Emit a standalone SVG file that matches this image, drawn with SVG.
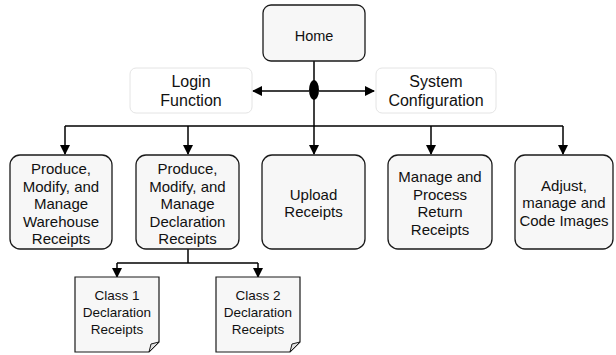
<svg xmlns="http://www.w3.org/2000/svg" width="616" height="355" viewBox="0 0 616 355">
<defs>
<style>
.box{fill:#f7f7f7;stroke:#1a1a1a;stroke-width:1.3}
.soft{fill:#ffffff;stroke:#e4e4e4;stroke-width:1}
.doc{fill:#f7f7f7;stroke:#1a1a1a;stroke-width:1.2}
.fold{fill:#e0e0e0;stroke:#1a1a1a;stroke-width:1}
.ln{fill:none;stroke:#000;stroke-width:1.5}
text{font-family:"Liberation Sans",Arial,sans-serif;font-size:15px;fill:#111;text-anchor:middle}
.big{font-size:16px}
.sm{font-size:13.5px}
</style>
<marker id="ah" markerWidth="10" markerHeight="10" refX="9" refY="5" orient="auto" markerUnits="userSpaceOnUse">
<path d="M0,0 L10,5 L0,10 Z" fill="#000"/>
</marker>
</defs>
<rect width="616" height="355" fill="#fff"/>
<g id="connectors">
<path class="ln" d="M314,61 V126"/>
<path class="ln" d="M309,91 H253" marker-end="url(#ah)"/>
<path class="ln" d="M319,91 H374" marker-end="url(#ah)"/>
<ellipse cx="314" cy="90" rx="5" ry="10" fill="#000"/>
<path class="ln" d="M65,126 H563"/>
<path class="ln" d="M65,126 V154" marker-end="url(#ah)"/>
<path class="ln" d="M188,126 V154" marker-end="url(#ah)"/>
<path class="ln" d="M314,126 V154" marker-end="url(#ah)"/>
<path class="ln" d="M431,126 V154" marker-end="url(#ah)"/>
<path class="ln" d="M563,126 V154" marker-end="url(#ah)"/>
<path class="ln" d="M188,249 V263"/>
<path class="ln" d="M117,263 H258"/>
<path class="ln" d="M117,263 V277" marker-end="url(#ah)"/>
<path class="ln" d="M258,263 V277" marker-end="url(#ah)"/>
</g>
<g id="home">
<rect class="box" x="263" y="5" width="102" height="56" rx="8"/>
<text x="314" y="41" style="font-size:14.5px">Home</text>
</g>
<g id="login">
<rect class="soft" x="130" y="68" width="122" height="45" rx="6"/>
<text class="big" x="191" y="87">Login</text>
<text class="big" x="191" y="106">Function</text>
</g>
<g id="sysconf">
<rect class="soft" x="376" y="68" width="120" height="45" rx="6"/>
<text class="big" x="436" y="87">System</text>
<text class="big" x="436" y="106">Configuration</text>
</g>
<g id="warehouse">
<rect class="box" x="10" y="155" width="102" height="94" rx="10"/>
<text x="61" y="174">Produce,</text>
<text x="61" y="191.5">Modify, and</text>
<text x="61" y="209">Manage</text>
<text x="61" y="226.5">Warehouse</text>
<text x="61" y="244">Receipts</text>
</g>
<g id="declaration">
<rect class="box" x="136" y="155" width="103" height="94" rx="10"/>
<text x="187.5" y="174">Produce,</text>
<text x="187.5" y="191.5">Modify, and</text>
<text x="187.5" y="209">Manage</text>
<text x="187.5" y="226.5">Declaration</text>
<text x="187.5" y="244">Receipts</text>
</g>
<g id="upload">
<rect class="box" x="262" y="155" width="103" height="94" rx="10"/>
<text x="313.5" y="199.5">Upload</text>
<text x="313.5" y="217">Receipts</text>
</g>
<g id="return">
<rect class="box" x="388" y="155" width="104" height="94" rx="10"/>
<text x="440" y="182">Manage and</text>
<text x="440" y="199.5">Process</text>
<text x="440" y="217">Return</text>
<text x="440" y="234.5">Receipts</text>
</g>
<g id="images">
<rect class="box" x="515" y="155" width="98" height="94" rx="10"/>
<text x="564" y="190.5">Adjust,</text>
<text x="564" y="208">manage and</text>
<text x="564" y="225.5">Code Images</text>
</g>
<g id="class1">
<path class="doc" d="M75,277 H159 V342 L149,352 H75 Z"/>
<path class="fold" d="M159,342 L149,352 L151,344 Z"/>
<text class="sm" x="117" y="300">Class 1</text>
<text class="sm" x="117" y="317">Declaration</text>
<text class="sm" x="117" y="334">Receipts</text>
</g>
<g id="class2">
<path class="doc" d="M216,277 H300 V342 L290,352 H216 Z"/>
<path class="fold" d="M300,342 L290,352 L292,344 Z"/>
<text class="sm" x="258" y="300">Class 2</text>
<text class="sm" x="258" y="317">Declaration</text>
<text class="sm" x="258" y="334">Receipts</text>
</g>
</svg>
